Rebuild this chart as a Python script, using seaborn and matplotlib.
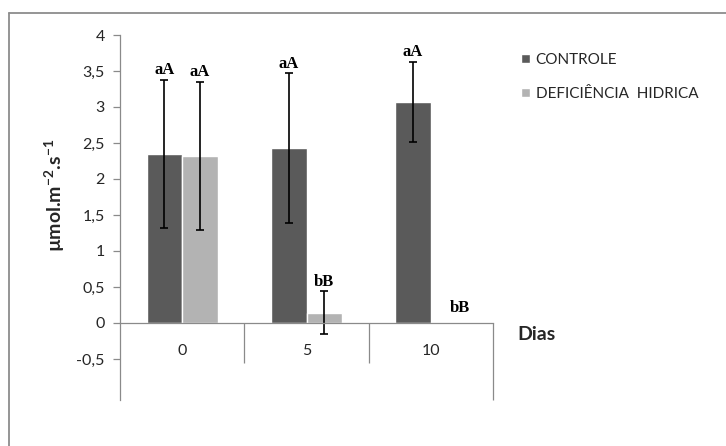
import numpy as np
import pandas as pd
import matplotlib
matplotlib.use("Agg")
import matplotlib.pyplot as plt
from matplotlib.lines import Line2D
import seaborn as sns

# ---- data ----
days = ["0", "5", "10"]
treatments = ["CONTROLE", "DEFICIÊNCIA  HIDRICA"]
controle = [2.35, 2.43, 3.07]
deficit = [2.32, 0.14, 0.0]
controle_err = [1.03, 1.04, 0.56]
deficit_err = [1.03, 0.30, 0.0]
controle_letters = ["aA", "aA", "aA"]
deficit_letters = ["aA", "bB", "bB"]
ytick_vals = [-0.5, 0, 0.5, 1, 1.5, 2, 2.5, 3, 3.5, 4]

df = pd.DataFrame({
    "Dias": days * 2,
    "Tratamento": [treatments[0]] * 3 + [treatments[1]] * 3,
    "valor": controle + deficit,
})

sns.set_style("white")
plt.rcParams["font.family"] = ["Lato", "DejaVu Sans"]
plt.rcParams["mathtext.fontset"] = "custom"
plt.rcParams["mathtext.rm"] = "Lato"
plt.rcParams["mathtext.bf"] = "Lato:bold"

dark = "#5a5a5a"
light = "#b3b3b3"
axis_gray = "#8a8a8a"
txt = "#262626"

W, H = 726, 446
fig = plt.figure(figsize=(W / 100, H / 100), dpi=100)
ax = fig.add_axes([120 / W, 1 - 400 / H, 373 / W, (400 - 35) / H])

sns.barplot(data=df, x="Dias", y="valor", hue="Tratamento", order=days,
            hue_order=treatments, palette=[dark, light], width=0.57,
            saturation=1, errorbar=None, ax=ax)

errs = [controle_err, deficit_err]
letters = [controle_letters, deficit_letters]
for cont, es, ls in zip(ax.containers, errs, letters):
    for bar, e, lt in zip(cont, es, ls):
        cx = bar.get_x() + bar.get_width() / 2
        h = bar.get_height()
        if e > 0:
            ax.errorbar(cx, h, yerr=e, fmt="none", ecolor="black",
                        elinewidth=1.2, capsize=3, capthick=1.2)
            pad, dx = 1, 0
        else:
            pad, dx = 5, 8
        ax.annotate(lt, (cx, h + e), xytext=(dx, pad), textcoords="offset points",
                    ha="center", va="bottom", family="Liberation Serif",
                    fontweight="bold", fontsize=12, color="black")

ax.set_xlim(-0.5, 2.5)
ax.set_ylim(-1.07, 4)

# axes styling
for s in ["top", "right"]:
    ax.spines[s].set_visible(False)
ax.spines["left"].set_color(axis_gray)
ax.spines["left"].set_linewidth(0.9)
ax.spines["bottom"].set_position(("data", 0))
ax.spines["bottom"].set_color(axis_gray)
ax.spines["bottom"].set_linewidth(0.9)

ax.set_yticks(ytick_vals)
ax.set_yticklabels([f"{v:g}".replace(".", ",") for v in ytick_vals])
ax.tick_params(axis="y", left=True, length=5, width=0.9, color=axis_gray,
               labelsize=11.5, labelcolor=txt, pad=6)
ax.tick_params(axis="x", bottom=False, length=0, labelsize=11.5,
               labelcolor=txt, pad=15)

ax.vlines([0.5, 1.5], -0.56, 0, color=axis_gray, lw=0.9, clip_on=False)
ax.vlines([2.5], -1.07, 0, color=axis_gray, lw=0.9, clip_on=False)

ax.set_xlabel("")
ax.set_ylabel(r"µmol.m$^{\mathbf{-2}}$.s$^{\mathbf{-1}}$", fontsize=14,
              fontweight="bold", color=txt, va="center")
ax.yaxis.set_label_coords((55 - 120) / 373, (400 - 195) / 365)

fig.text(517 / W, 1 - 335 / H, "Dias", fontsize=14, fontweight="bold",
         color=txt, ha="left", va="center")

handles, labels = ax.get_legend_handles_labels()
ax.legend(handles, labels, loc="upper left", bbox_to_anchor=(521 / W, 1 - 53 / H),
          bbox_transform=fig.transFigure, frameon=False, fontsize=11,
          labelspacing=1.3, handlelength=0.6, handleheight=0.6,
          handletextpad=0.35, borderpad=0, borderaxespad=0,
          labelcolor=txt)

# outer chart frame (left and top visible)
fig.add_artist(Line2D([9 / W, 9 / W], [0, 1 - 13 / H], transform=fig.transFigure,
                      color="#8c8c8c", lw=1.3))
fig.add_artist(Line2D([9 / W, 1], [1 - 13 / H, 1 - 13 / H], transform=fig.transFigure,
                      color="#8c8c8c", lw=1.3))

fig.savefig("out.png", dpi=100, facecolor="white")
